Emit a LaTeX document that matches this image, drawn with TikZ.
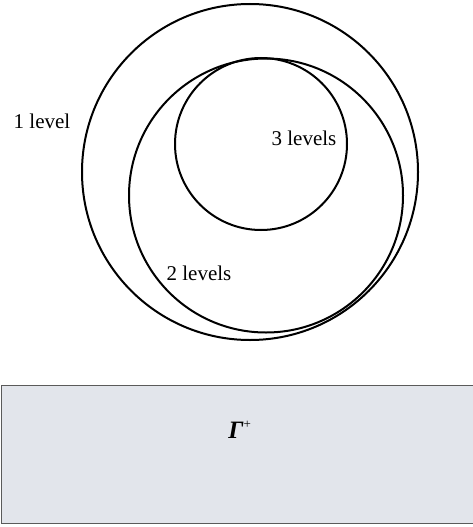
\documentclass[tikz,border=0pt]{standalone}
\usepackage{fontspec}
\setmainfont{Liberation Serif}
\usepackage{tikz}
\usetikzlibrary{positioning}
\definecolor{panelfill}{RGB}{226,229,235}
\definecolor{panelline}{RGB}{90,90,90}

\begin{document}
\begin{tikzpicture}[
  x=1pt, y=-1pt,
  ring/.style={draw, circle, line width=2pt, inner sep=0pt, outer sep=0pt},
  lbl/.style={inner sep=0pt, font=\fontsize{21}{25}\selectfont},
  panel/.style={draw=panelline, fill=panelfill, line width=1pt, inner sep=0pt}
]
\useasboundingbox (0,0) rectangle (472,527);
\node[ring, minimum size=336pt] (lvlone) at (250,172) {};
\node[ring, minimum size=274pt] (lvltwo) at (266,195.5) {};
\node[ring, minimum size=172pt] (lvlthree) at (261,144) {};
\node[lbl] (txtone) at (42,121) {1 level};
\node[lbl] (txtthree) at (304,138) {3 levels};
\node[lbl] (txttwo) at (199,273) {2 levels};
\node[panel, minimum width=476pt, minimum height=138pt] (gpanel) at (239.5,454) {};
\node[lbl, anchor=base, font=\fontsize{25}{30}\selectfont] (gsym) at (240,438)
  {\textbf{\textit{Γ}}\textsuperscript{\fontsize{13}{15}\selectfont +}};
\end{tikzpicture}
\end{document}
